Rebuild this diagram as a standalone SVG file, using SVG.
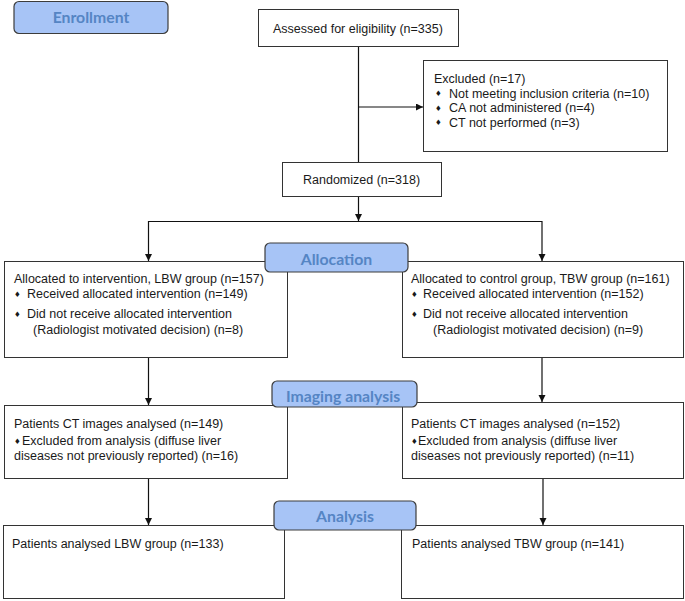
<svg xmlns="http://www.w3.org/2000/svg" width="685" height="601" viewBox="0 0 685 601">
<defs>
<style>
.box{fill:#fff;stroke:#333;stroke-width:1}
.lab{fill:#a7c4f6;stroke:#3c3c3c;stroke-width:1.2}
.labt{font-family:Lato,"Open Sans",sans-serif;font-weight:bold;font-size:15.8px;fill:#5585c4;text-anchor:middle}
.t{font-family:"Liberation Sans",Arial,sans-serif;font-size:12.5px;fill:#1a1a1a}
.b{font-family:"DejaVu Sans",sans-serif;font-size:7.5px;fill:#1a1a1a}
.c{fill:none;stroke:#111;stroke-width:1.2}
</style>
<marker id="ah" markerUnits="userSpaceOnUse" markerWidth="8" markerHeight="8" refX="7" refY="3.5" orient="auto">
<path d="M0,0 L7,3.5 L0,7 z" fill="#111"/>
</marker>
</defs>
<rect width="685" height="601" fill="#fff"/>

<g id="connectors">
<line class="c" x1="358.5" y1="46" x2="358.5" y2="163"/>
<line class="c" x1="358.5" y1="107" x2="423" y2="107" marker-end="url(#ah)"/>
<line class="c" x1="358.5" y1="196" x2="358.5" y2="221" marker-end="url(#ah)"/>
<line class="c" x1="148" y1="221.5" x2="542" y2="221.5"/>
<line class="c" x1="148.5" y1="221" x2="148.5" y2="261" marker-end="url(#ah)"/>
<line class="c" x1="542" y1="221" x2="542" y2="261" marker-end="url(#ah)"/>
<line class="c" x1="148.5" y1="357" x2="148.5" y2="405" marker-end="url(#ah)"/>
<line class="c" x1="542" y1="357" x2="542" y2="402" marker-end="url(#ah)"/>
<line class="c" x1="148.5" y1="478" x2="148.5" y2="525" marker-end="url(#ah)"/>
<line class="c" x1="543" y1="479" x2="543" y2="525" marker-end="url(#ah)"/>
</g>

<g id="assessed">
<rect class="box" x="258.5" y="9.5" width="200" height="37"/>
<text class="t" x="273" y="32.5">Assessed for eligibility (n=335)</text>
</g>

<g id="excluded">
<rect class="box" x="423.5" y="60.5" width="244" height="91"/>
<text class="t" x="434" y="82.5">Excluded (n=17)</text>
<text class="b" x="435" y="96">♦</text><text class="t" x="449" y="97.5">Not meeting inclusion criteria (n=10)</text>
<text class="b" x="435" y="111">♦</text><text class="t" x="449" y="112">CA not administered (n=4)</text>
<text class="b" x="435" y="125">♦</text><text class="t" x="449" y="126.5">CT not performed (n=3)</text>
</g>

<g id="randomized">
<rect class="box" x="282.5" y="162.5" width="159" height="34"/>
<text class="t" x="303" y="184">Randomized (n=318)</text>
</g>

<g id="alloc-lbw">
<rect class="box" x="4.5" y="261.5" width="283" height="96"/>
<text class="t" x="14" y="283">Allocated to intervention, LBW group (n=157)</text>
<text class="b" x="14" y="297">♦</text><text class="t" x="27" y="298">Received allocated intervention (n=149)</text>
<text class="b" x="14" y="317">♦</text><text class="t" x="27" y="318">Did not receive allocated intervention</text>
<text class="t" x="33" y="334">(Radiologist motivated decision) (n=8)</text>
</g>

<g id="alloc-tbw">
<rect class="box" x="402.5" y="261.5" width="281" height="96"/>
<text class="t" x="411" y="283">Allocated to control group, TBW group (n=161)</text>
<text class="b" x="411" y="297">♦</text><text class="t" x="423" y="298">Received allocated intervention (n=152)</text>
<text class="b" x="411" y="317">♦</text><text class="t" x="423" y="318">Did not receive allocated intervention</text>
<text class="t" x="433" y="334">(Radiologist motivated decision) (n=9)</text>
</g>

<g id="img-lbw">
<rect class="box" x="4.5" y="405.5" width="283" height="73"/>
<text class="t" x="14" y="428">Patients CT images analysed (n=149)</text>
<text class="b" x="14" y="443.5">♦</text><text class="t" x="22" y="444.5">Excluded from analysis (diffuse liver</text>
<text class="t" x="14" y="460">diseases not previously reported) (n=16)</text>
</g>

<g id="img-tbw">
<rect class="box" x="402.5" y="402.5" width="281" height="76"/>
<text class="t" x="411" y="428">Patients CT images analysed (n=152)</text>
<text class="b" x="411" y="443.5">♦</text><text class="t" x="418" y="444.5">Excluded from analysis (diffuse liver</text>
<text class="t" x="411" y="460">diseases not previously reported) (n=11)</text>
</g>

<g id="ana-lbw">
<rect class="box" x="3.5" y="525.5" width="281" height="73"/>
<text class="t" x="12" y="547.5">Patients analysed LBW group (n=133)</text>
</g>

<g id="ana-tbw">
<rect class="box" x="401.5" y="525.5" width="282" height="73"/>
<text class="t" x="412" y="547.5">Patients analysed TBW group (n=141)</text>
</g>

<g id="label-enrollment">
<rect class="lab" x="14" y="1.5" width="154" height="32" rx="5"/>
<text class="labt" x="91" y="23">Enrollment</text>
</g>
<g id="label-allocation">
<rect class="lab" x="265" y="243" width="143" height="29" rx="5"/>
<text class="labt" x="336.5" y="265">Allocation</text>
</g>
<g id="label-imaging">
<rect class="lab" x="272" y="381" width="145" height="26" rx="5"/>
<text class="labt" x="343" y="402">Imaging analysis</text>
</g>
<g id="label-analysis">
<rect class="lab" x="274" y="501" width="142" height="29" rx="5"/>
<text class="labt" x="345" y="522">Analysis</text>
</g>
</svg>
